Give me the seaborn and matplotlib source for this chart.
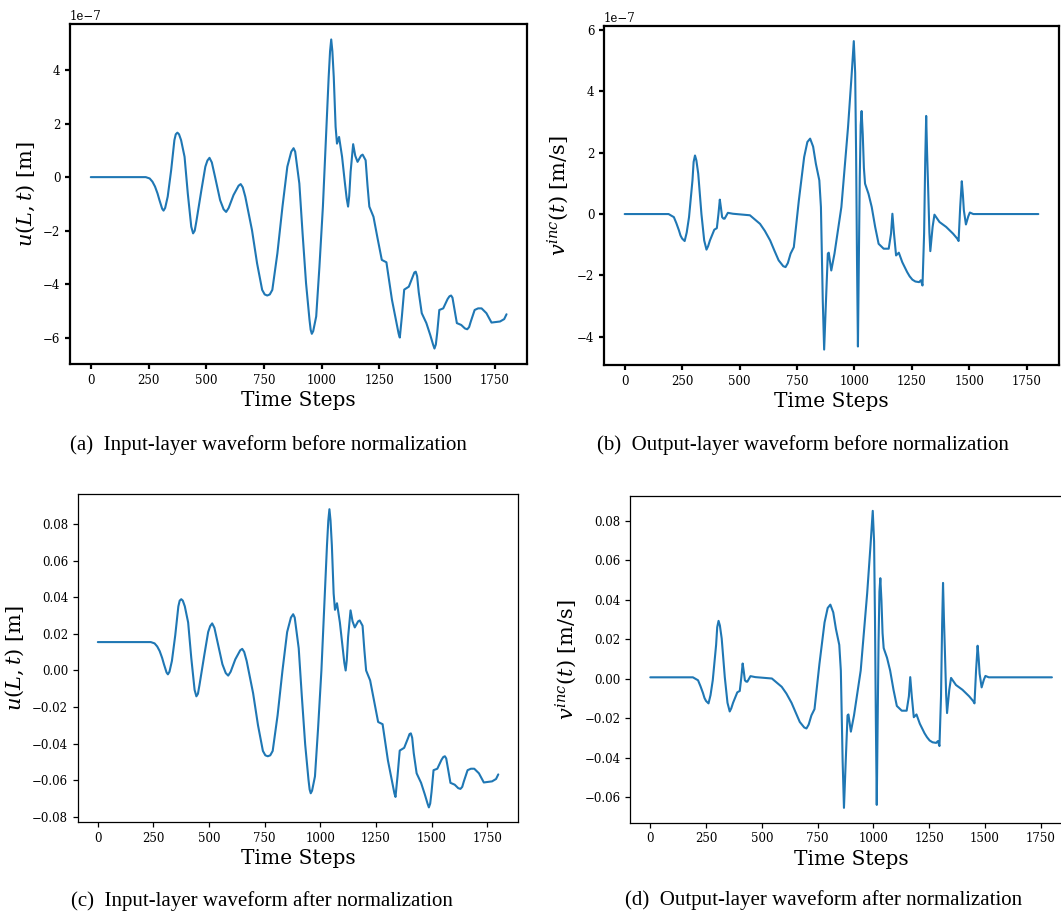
import numpy as np
import pandas as pd
import matplotlib
matplotlib.use("Agg")
import matplotlib.pyplot as plt
import seaborn as sns

# ---------------- data ----------------
# (a) input-layer waveform before normalization, values in units of 1e-7 m
t_in = [0, 238, 255, 267, 278, 289, 297, 304, 309, 315, 322, 333, 348, 362, 368, 375, 382,
        391, 406, 420, 435, 443, 450, 457, 479, 496, 505, 514, 524, 538, 560, 575, 586,
        597, 618, 640, 649, 658, 669, 698, 720, 742, 753, 764, 775, 786, 808, 830, 851,
        868, 878, 885, 903, 917, 932, 947, 952, 957, 963, 976, 990, 1005, 1019, 1030,
        1036, 1041, 1046, 1052, 1060, 1066, 1075, 1088, 1100, 1108, 1114, 1119, 1125,
        1136, 1145, 1155, 1170, 1177, 1190, 1198, 1206, 1224, 1242, 1260, 1280, 1304,
        1325, 1333, 1338, 1347, 1357, 1377, 1395, 1401, 1407, 1413, 1420, 1433, 1453,
        1470, 1482, 1488, 1494, 1500, 1509, 1526, 1545, 1553, 1560, 1566, 1572, 1585,
        1604, 1620, 1630, 1638, 1645, 1662, 1677, 1692, 1713, 1735, 1772, 1790, 1800]
u_raw_e7 = [0, 0, -0.05, -0.17, -0.35, -0.61, -0.85, -1.04, -1.18, -1.25, -1.15, -0.73,
            0.26, 1.38, 1.6, 1.66, 1.6, 1.38, 0.76, -0.61, -1.85, -2.1, -2.0, -1.66, -0.48,
            0.39, 0.62, 0.72, 0.55, 0.01, -0.86, -1.2, -1.3, -1.15, -0.67, -0.32, -0.26,
            -0.38, -0.73, -1.98, -3.22, -4.21, -4.38, -4.42, -4.38, -4.21, -2.84, -1.1,
            0.39, 0.95, 1.08, 0.95, -0.24, -2.1, -3.96, -5.33, -5.7, -5.85, -5.75, -5.2,
            -3.34, -1.1, 1.63, 3.74, 4.7, 5.14, 4.7, 3.74, 1.88, 1.25, 1.5, 0.76, -0.2,
            -0.8, -1.1, -0.7, 0.2, 1.23, 0.8, 0.57, 0.8, 0.84, 0.63, -0.3, -1.1, -1.48,
            -2.3, -3.09, -3.18, -4.58, -5.5, -5.85, -5.99, -5.2, -4.2, -4.09, -3.7, -3.56,
            -3.53, -3.7, -4.3, -5.08, -5.45, -5.9, -6.25, -6.4, -6.25, -5.8, -4.96, -4.9,
            -4.55, -4.45, -4.42, -4.5, -4.8, -5.45, -5.52, -5.65, -5.68, -5.6, -5.4, -4.96,
            -4.9, -4.9, -5.08, -5.43, -5.39, -5.3, -5.12]

# (c) input-layer waveform after normalization
u_norm = [0.0155, 0.0155, 0.0148, 0.0131, 0.0106, 0.0069, 0.0035, 0.0008, -0.0011, -0.0021,
          -0.0007, 0.0052, 0.0192, 0.0350, 0.0381, 0.0389, 0.0381, 0.0350, 0.0262, 0.0069,
          -0.0106, -0.0141, -0.0127, -0.0079, 0.0087, 0.0210, 0.0242, 0.0257, 0.0233,
          0.0156, 0.0034, -0.0014, -0.0028, -0.0007, 0.0061, 0.0110, 0.0118, 0.0101,
          0.0052, -0.0124, -0.0299, -0.0439, -0.0463, -0.0468, -0.0463, -0.0439, -0.0245,
          0.0000, 0.0210, 0.0289, 0.0307, 0.0289, 0.0121, -0.0141, -0.0403, -0.0597,
          -0.0649, -0.0670, -0.0656, -0.0578, -0.0316, 0.0000, 0.0385, 0.0682, 0.0818,
          0.0880, 0.0818, 0.0682, 0.0420, 0.0331, 0.0367, 0.0262, 0.0127, 0.0042, 0.0000,
          0.0056, 0.0183, 0.0328, 0.0268, 0.0235, 0.0268, 0.0273, 0.0244, 0.0113, 0.0000,
          -0.0054, -0.0169, -0.0281, -0.0293, -0.0491, -0.0621, -0.0670, -0.0690, -0.0578,
          -0.0437, -0.0422, -0.0367, -0.0347, -0.0343, -0.0367, -0.0451, -0.0561, -0.0613,
          -0.0677, -0.0726, -0.0747, -0.0726, -0.0663, -0.0544, -0.0536, -0.0487, -0.0472,
          -0.0468, -0.0480, -0.0522, -0.0613, -0.0623, -0.0642, -0.0646, -0.0635, -0.0606,
          -0.0544, -0.0536, -0.0536, -0.0561, -0.0611, -0.0605, -0.0592, -0.0567]

# (b) output-layer waveform before normalization, values in units of 1e-7 m/s
t_out = [0, 191, 214, 225, 236, 243, 250, 261, 270, 280, 295, 300, 306, 312, 320, 334, 346,
         356, 363, 371, 390, 401, 408, 414, 419, 424, 430, 435, 449, 471, 545, 589, 610,
         633, 652, 670, 690, 700, 710, 722, 736, 758, 781, 795, 807, 820, 832, 847, 854,
         862, 868, 876, 884, 888, 899, 913, 943, 972, 987, 997, 1003, 1007, 1011, 1015,
         1019, 1023, 1027, 1031, 1036, 1041, 1046, 1061, 1075, 1090, 1105, 1127, 1149,
         1159, 1165, 1172, 1181, 1193, 1208, 1229, 1240, 1252, 1265, 1281, 1289, 1296,
         1303, 1308, 1312, 1316, 1320, 1326, 1330, 1340, 1348, 1370, 1399, 1429, 1447,
         1453, 1460, 1467, 1472, 1476, 1485, 1495, 1502, 1517, 1800]
v_raw_e7 = [0, 0, -0.1, -0.3, -0.53, -0.7, -0.8, -0.88, -0.6, -0.1, 1.1, 1.7, 1.91, 1.75,
            1.32, 0, -0.86, -1.16, -1.05, -0.86, -0.51, -0.46, 0.0, 0.47, 0.2, -0.1, -0.15,
            -0.15, 0.04, 0.01, -0.04, -0.32, -0.55, -0.86, -1.2, -1.51, -1.7, -1.73, -1.6,
            -1.29, -1.08, 0.45, 1.86, 2.35, 2.46, 2.2, 1.64, 1.1, 0.23, -2.82, -4.42, -2.82,
            -1.29, -1.26, -1.84, -1.29, 0.23, 2.84, 4.47, 5.64, 4.6, 2.0, -1.5, -4.32, -1.5,
            1.2, 2.9, 3.36, 2.6, 1.5, 0.99, 0.66, 0.23, -0.42, -0.97, -1.13, -1.13, -0.64,
            0.01, -0.64, -1.35, -1.26, -1.57, -1.89, -2.03, -2.14, -2.2, -2.22, -2.16,
            -2.33, -0.64, 1.8, 3.2, 2.0, 0.99, -0.6, -1.21, -0.42, -0.02, -0.26, -0.42,
            -0.64, -0.8, -0.88, 0.23, 1.07, 0.6, 0.12, -0.34, -0.08, 0.05, 0, 0]

# (d) output-layer waveform after normalization
v_norm = [0.0007, 0.0007, -0.0008, -0.0038, -0.0072, -0.0098, -0.0113, -0.0125, -0.0083,
          -0.0008, 0.0171, 0.0261, 0.0293, 0.0269, 0.0204, 0.0007, -0.0122, -0.0166,
          -0.0150, -0.0122, -0.0069, -0.0062, 0.0007, 0.0077, 0.0037, -0.0008, -0.0015,
          -0.0015, 0.0013, 0.0008, 0.0001, -0.0041, -0.0075, -0.0122, -0.0172, -0.0219,
          -0.0247, -0.0252, -0.0232, -0.0186, -0.0154, 0.0074, 0.0285, 0.0358, 0.0375,
          0.0336, 0.0252, 0.0171, 0.0041, -0.0415, -0.0654, -0.0415, -0.0186, -0.0181,
          -0.0268, -0.0186, 0.0041, 0.0432, 0.0675, 0.0850, 0.0695, 0.0306, -0.0217,
          -0.0639, -0.0217, 0.0186, 0.0441, 0.0509, 0.0396, 0.0231, 0.0155, 0.0106,
          0.0041, -0.0056, -0.0138, -0.0162, -0.0162, -0.0089, 0.0008, -0.0089, -0.0195,
          -0.0181, -0.0228, -0.0276, -0.0296, -0.0313, -0.0322, -0.0325, -0.0316, -0.0341,
          -0.0089, 0.0276, 0.0485, 0.0306, 0.0155, -0.0083, -0.0174, -0.0056, 0.0004,
          -0.0032, -0.0056, -0.0089, -0.0113, -0.0125, 0.0041, 0.0167, 0.0097, 0.0025,
          -0.0044, -0.0005, 0.0014, 0.0007, 0.0007]

x_ticks = [0, 250, 500, 750, 1000, 1250, 1500, 1750]
x_label = "Time Steps"
y_labels = [r"$u(L,t)$ [m]", r"$v^{inc}(t)$ [m/s]", r"$u(L,t)$ [m]", r"$v^{inc}(t)$ [m/s]"]
captions = ["(a)  Input-layer waveform before normalization",
            "(b)  Output-layer waveform before normalization",
            "(c)  Input-layer waveform after normalization",
            "(d)  Output-layer waveform after normalization"]

# ---------------- style ----------------
sns.set_style("ticks")
plt.rcParams["font.family"] = ["DejaVu Serif"]
plt.rcParams["mathtext.fontset"] = "dejavuserif"
plt.rcParams["axes.edgecolor"] = "black"
plt.rcParams["xtick.color"] = "black"
plt.rcParams["ytick.color"] = "black"
plt.rcParams["text.color"] = "black"
plt.rcParams["axes.labelcolor"] = "black"

W, H = 1061, 914
fig = plt.figure(figsize=(W / 100, H / 100), dpi=100)

def rect(l, r, t, b):
    return [l / W, (H - b) / H, (r - l) / W, (b - t) / H]

rects = [rect(70, 527.3, 24, 364), rect(604, 1059, 25.7, 365),
         rect(77.8, 518.3, 494.3, 822.3), rect(630.2, 1072, 496, 822.7)]

series = [
    (t_in, np.array(u_raw_e7) * 1e-7),
    (t_out, np.array(v_raw_e7) * 1e-7),
    (t_in, u_norm),
    (t_out, v_norm),
]
color = "#1f77b4"

for i, (xs, ys) in enumerate(series):
    ax = fig.add_axes(rects[i])
    df = pd.DataFrame({"t": xs, "y": ys})
    sns.lineplot(data=df, x="t", y="y", ax=ax, color=color, linewidth=1.5)
    top = i < 2
    lw = 1.6 if top else 0.9
    for sp in ax.spines.values():
        sp.set_visible(True)
        sp.set_linewidth(lw)
        sp.set_color("black")
    ax.tick_params(axis="both", labelsize=8.5, width=lw, length=3.5, direction="out")
    ax.set_xticks(x_ticks)
    ax.set_xlabel(x_label, fontsize=14.5, labelpad=3)
    ax.set_ylabel(y_labels[i], fontsize=15, labelpad=4)
    ax.yaxis.get_offset_text().set_fontsize(8.5)
    ax.grid(False)

cap_pos = [(268, 445), (803, 445), (262, 901), (824, 900)]
for (cx, cy), text in zip(cap_pos, captions):
    fig.text(cx / W, (H - cy) / H, text, ha="center", va="center",
             fontsize=15, family=["Liberation Serif"])

fig.savefig("out.png", dpi=100)
